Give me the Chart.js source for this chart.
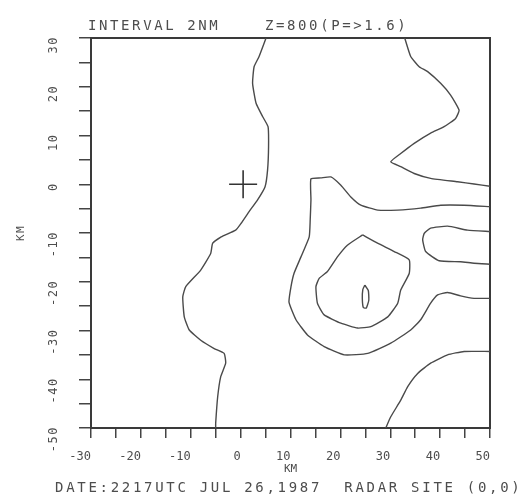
<!DOCTYPE html>
<html>
<head>
<meta charset="utf-8">
<script src="https://cdn.jsdelivr.net/npm/chart.js@4.4.1/dist/chart.umd.min.js"></script>
<style>
  body { margin: 0; background: #fff; }
</style>
</head>
<body>
<canvas id="myChart" width="527" height="497"></canvas>
<script>
// axis ticks (km from radar site)
const xTickValues = [-30, -20, -10, 0, 10, 20, 30, 40, 50];
const yTickValues = [30, 20, 10, 0, -10, -20, -30, -40, -50];
const minorStep = 5;

const titleParts = ['INTERVAL 2NM', 'Z=800(P=>1.6)'];
const axisUnit = 'KM';
const footerText = 'DATE:2217UTC JUL 26,1987  RADAR SITE (0,0)';

// contour lines, [x, y] in km
const contourWest = [[5.1,30],[3.7,26.2],[2.7,24.1],[2.4,20.7],[3.1,16.6],[4.4,13.9],[5.5,11.8],[5.6,7.7],
  [5.4,2.9],[4.9,-0.5],[3.4,-3.2],[1.7,-5.6],[0.1,-8.0],[-1.0,-9.4],[-3.9,-10.8],[-5.6,-12.1],
  [-6.0,-14.2],[-8.0,-17.6],[-11.0,-21.0],[-11.6,-23.1],[-11.3,-27.2],[-10.3,-29.9],[-8.0,-32.0],
  [-5.3,-33.7],[-3.3,-34.7],[-3.0,-36.7],[-4.0,-39.5],[-4.6,-43.6],[-5.0,-49.0],[-5.0,-50]];

const contourNorthEast = [[32.9,30],[34.1,26.2],[35.8,24.1],[37.5,23.1],[40.1,20.7],[42.1,18.3],[43.8,15.2],
  [43.1,13.5],[40.8,11.8],[38.1,10.5],[34.8,8.4],[32.1,6.3],[30.1,4.6],[32.1,3.6],[34.8,2.2],
  [38.1,1.2],[43.5,0.5],[46.8,0.05],[50,-0.4]];

const contourOuter = [[50,-4.6],[44.8,-4.3],[40.1,-4.3],[36.1,-4.9],[31.5,-5.3],[27.5,-5.3],[24.1,-4.3],
  [22.1,-2.6],[20.1,-0.2],[18.1,1.5],[16.1,1.3],[14.1,1.1],[14.1,-3.2],[13.95,-7.3],[13.75,-10.8],
  [12.1,-14.9],[10.7,-18.3],[10.1,-21.0],[9.7,-24.2],[11.1,-27.8],[13.4,-30.9],[16.75,-33.3],
  [20.8,-35.0],[25.5,-34.7],[30.1,-32.6],[34.1,-29.9],[36.1,-27.8],[38.1,-24.4],[39.5,-22.7],
  [41.5,-22.2],[44.1,-22.9],[46.8,-23.4],[50,-23.4]];

const contourEastBand = [[50,-9.7],[45.5,-9.4],[41.5,-8.6],[38.1,-9.0],[36.8,-10.1],[36.5,-11.4],
  [37.1,-13.8],[39.8,-15.7],[44.1,-15.9],[46.8,-16.2],[50,-16.4]];

const contourCore = [[24.45,-10.4],[27.45,-12.1],[30.8,-13.8],[33.8,-15.5],[33.8,-18.3],[32.1,-21.7],
  [31.5,-24.4],[29.5,-27.2],[26.1,-29.2],[23.45,-29.5],[20.1,-28.5],[16.75,-26.8],[15.4,-24.4],
  [15.1,-21.0],[15.75,-19.3],[17.4,-17.9],[19.4,-14.9],[21.4,-12.5],[24.45,-10.4]];

const contourPeak = [[24.9,-20.7],[25.6,-21.8],[25.7,-23.8],[25.2,-25.4],[24.6,-25.3],[24.4,-23.5],
  [24.5,-21.6],[24.9,-20.7]];

const contourSouthEast = [[50,-34.3],[44.8,-34.3],[41.5,-35.0],[38.1,-36.7],[35.5,-38.8],[33.5,-41.5],
  [32.1,-44.3],[30.1,-47.7],[29.1,-50]];

const radarSite = [[0.5, 0]];

const contours = [contourWest, contourNorthEast, contourOuter, contourEastBand,
  contourCore, contourPeak, contourSouthEast];

const monoFont = '"DejaVu Sans Mono", "Liberation Mono", monospace';
const inkColor = '#4a4a4a';
const textColor = '#4d4d4d';

const toPoints = arr => arr.map(p => ({ x: p[0], y: p[1] }));

const datasets = contours.map(c => ({
  data: toPoints(c),
  showLine: true,
  pointRadius: 0,
  borderColor: inkColor,
  borderWidth: 1.4,
  tension: 0.15
}));
datasets.push({
  data: toPoints(radarSite),
  pointStyle: 'cross',
  pointRadius: 14,
  borderColor: '#333',
  borderWidth: 1.6,
  showLine: false
});

// frame + plotter style texts
const plotterText = {
  id: 'plotterText',
  beforeDatasetsDraw(chart) {
    const ctx = chart.ctx;
    const a = chart.chartArea;
    ctx.save();
    ctx.strokeStyle = '#3a3a3a';
    ctx.lineWidth = 2;
    ctx.strokeRect(a.left, a.top, a.right - a.left, a.bottom - a.top);
    ctx.restore();
  },
  afterDraw(chart) {
    const ctx = chart.ctx;
    const a = chart.chartArea;
    const ys = chart.scales.y;
    ctx.save();
    ctx.fillStyle = textColor;
    ctx.font = '14px ' + monoFont;
    ctx.letterSpacing = '2.6px';
    ctx.textAlign = 'left';
    ctx.textBaseline = 'alphabetic';
    ctx.fillText(titleParts[0], a.left - 3, 30);
    ctx.fillText(titleParts[1], 265, 30);
    ctx.letterSpacing = '2.7px';
    ctx.fillText(footerText, a.left - 36, 492);

    ctx.letterSpacing = '1.5px';
    ctx.font = '12px ' + monoFont;
    yTickValues.forEach(v => {
      const py = ys.getPixelForValue(v);
      ctx.save();
      ctx.translate(a.left - 37, py - 2);
      ctx.rotate(-Math.PI / 2);
      ctx.textAlign = 'right';
      ctx.textBaseline = 'middle';
      ctx.fillText(String(v), 0, 0);
      ctx.restore();
    });

    ctx.font = '11px ' + monoFont;
    ctx.translate(21, (a.top + a.bottom) / 2);
    ctx.rotate(-Math.PI / 2);
    ctx.textAlign = 'center';
    ctx.textBaseline = 'middle';
    ctx.fillText(axisUnit, 0, 0);
    ctx.restore();
  }
};

const config = {
  type: 'scatter',
  data: { datasets: datasets },
  options: {
    responsive: false,
    animation: false,
    devicePixelRatio: 1,
    layout: { padding: { left: 0, right: 37, top: 38, bottom: 0 } },
    plugins: {
      legend: { display: false },
      tooltip: { enabled: false }
    },
    scales: {
      x: {
        type: 'linear',
        position: 'bottom',
        min: xTickValues[0],
        max: xTickValues[xTickValues.length - 1],
        afterFit: s => { s.height = 69; },
        border: { display: true, color: '#333', width: 2 },
        grid: { drawOnChartArea: false, drawTicks: true, tickLength: 10, color: '#444', lineWidth: 1.5 },
        ticks: {
          stepSize: minorStep,
          autoSkip: false,
          maxTicksLimit: 40,
          maxRotation: 0,
          align: 'end',
          padding: 12,
          color: textColor,
          font: { family: monoFont, size: 12 },
          callback: v => xTickValues.includes(v) ? String(v) : ''
        },
        title: {
          display: true,
          text: axisUnit,
          color: textColor,
          font: { family: monoFont, size: 11 },
          padding: { top: 0, bottom: 21 }
        }
      },
      y: {
        type: 'linear',
        position: 'left',
        min: yTickValues[yTickValues.length - 1],
        max: yTickValues[0],
        afterFit: s => { s.width = 91; },
        border: { display: true, color: '#333', width: 2 },
        grid: { drawOnChartArea: false, drawTicks: true, tickLength: 12, color: '#444', lineWidth: 1.5 },
        ticks: { stepSize: minorStep, autoSkip: false, maxTicksLimit: 40, display: false }
      }
    }
  },
  plugins: [plotterText]
};

const chart = new Chart(document.getElementById('myChart'), config);
</script>
</body>
</html>
